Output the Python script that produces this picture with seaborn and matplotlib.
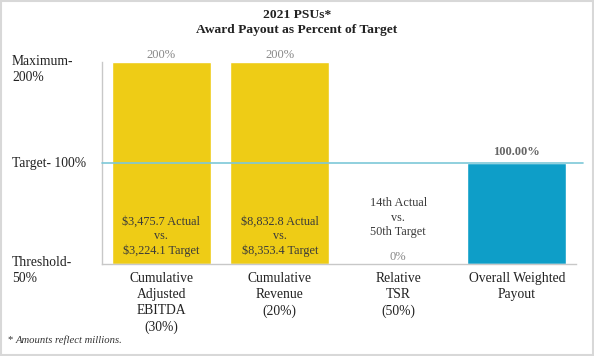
import matplotlib
matplotlib.use('Agg')
import matplotlib.pyplot as plt
import matplotlib.transforms as mtransforms
import seaborn as sns
import pandas as pd
from matplotlib.patches import Rectangle

categories = ['Cumulative\nAdjusted\nEBITDA\n(30%)', 'Cumulative\nRevenue\n(20%)',
              'Relative\nTSR\n(50%)', 'Overall Weighted\nPayout']
payout = [200, 200, 0, 100]
value_labels = ['200%', '200%', '0%', '100.00%']
inner_labels = ['$3,475.7 Actual\nvs.\n$3,224.1 Target',
                '$8,832.8 Actual\nvs.\n$8,353.4 Target',
                '14th Actual\nvs.\n50th Target', '']
bar_colors = ['#EECC16', '#EECC16', '#EECC16', '#0E9EC8']
level_labels = ['Maximum-\n200%', 'Target- 100%', 'Threshold-\n50%']

df = pd.DataFrame({'category': categories, 'payout': payout})

sns.set_style('white')
plt.rcParams['font.family'] = ['Liberation Serif', 'DejaVu Serif']

fig = plt.figure(figsize=(5.94, 3.56), dpi=100)
ax = fig.add_axes([0.1717, 0.2584, 0.798, 0.5674])
sns.barplot(data=df, x='category', y='payout', hue='category', palette=bar_colors,
            legend=False, width=0.835, saturation=1, ax=ax)
ax.set_ylim(0, 200)
ax.set_xlim(-0.5, 3.5)
ax.set_xlabel('')
ax.set_ylabel('')
ax.set_yticks([])
ax.tick_params(axis='x', length=0, labelsize=9.8, colors='#222222', pad=6)
for lbl in ax.get_xticklabels():
    lbl.set_linespacing(1.3)
for s in ['top', 'right']:
    ax.spines[s].set_visible(False)
for s in ['left', 'bottom']:
    ax.spines[s].set_color('#C8C8C8')
    ax.spines[s].set_linewidth(1)

# target line runs a little past the last bar
ax.axhline(100, xmin=0, xmax=1.015, color='#7DC8D8', lw=1.2, clip_on=False, zorder=5)

for i, (v, lab) in enumerate(zip(payout, value_labels)):
    if i == 3:
        ax.text(i, v + 5, lab, ha='center', va='bottom', fontsize=9, color='#666666',
                fontweight='bold')
    else:
        ax.text(i, v + 1, lab, ha='center', va='bottom', fontsize=9, color='#888888')

for i, lab in enumerate(inner_labels):
    y = 7 if i < 2 else 26
    ax.text(i, y, lab, ha='center', va='bottom', fontsize=8.8, color='#3A3A3A',
            linespacing=1.25)

trans = mtransforms.blended_transform_factory(fig.transFigure, ax.transData)
label_y = [193, 100, -6]
for y, lab in zip(label_y, level_labels):
    ax.text(12 / 594, y, lab, transform=trans, ha='left', va='center', fontsize=9.8,
            color='#222222', linespacing=1.3, clip_on=False)

fig.text(0.5, 0.976, '2021 PSUs*\nAward Payout as Percent of Target', ha='center', va='top',
         fontsize=9.7, fontweight='bold', color='#222222', linespacing=1.4)
fig.text(7 / 594, 1 - 340 / 356, '*', ha='left', va='center', fontsize=7.7, color='#333333')
fig.text(16 / 594, 1 - 340 / 356, 'Amounts reflect millions.', ha='left', va='center',
         fontsize=7.7, style='italic', color='#333333')

fig.patches.append(Rectangle((0.002, 0.003), 0.996, 0.994, transform=fig.transFigure,
                             fill=False, edgecolor='#D8D8D8', lw=1.5))

fig.savefig('out.png', dpi=100)
